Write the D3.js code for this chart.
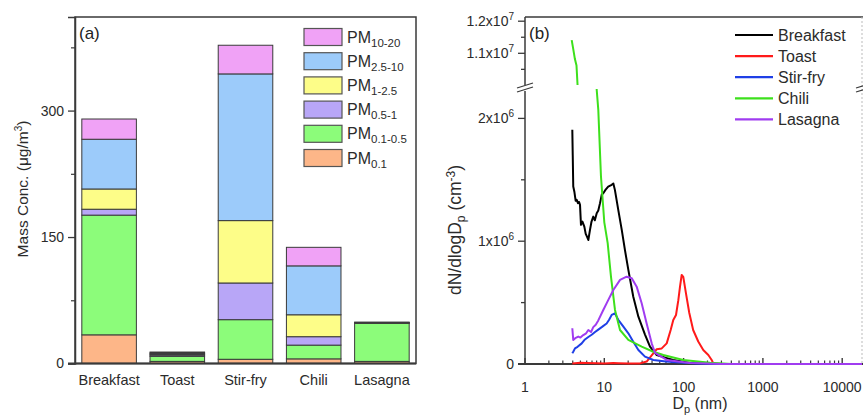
<!DOCTYPE html>
<html><head><meta charset="utf-8">
<script src="https://cdn.jsdelivr.net/npm/d3@7"></script>
<style>
body{margin:0;background:#fff;}
svg{display:block;font-family:"Liberation Sans",Arial,sans-serif;}
</style></head>
<body><svg id="c" width="863" height="416"></svg>
<script>
// ---------- Panel (a) data ----------
const categories = ["Breakfast","Toast","Stir-fry","Chili","Lasagna"];
const fractionKeys = ["pm01","pm01_05","pm05_1","pm1_25","pm25_10","pm10_20"];
const fractionLabels = [["PM","0.1"],["PM","0.1-0.5"],["PM","0.5-1"],["PM","1-2.5"],["PM","2.5-10"],["PM","10-20"]];
const fractionColors = ["#fdb688","#8cfc7a","#b8a6f7","#fdfd88","#9ccbfa","#f0a2f6"];
const pm01    = [34,  2.5, 5,    5.5, 2.5];
const pm01_05 = [142, 6,   47,   16.3, 45];
const pm05_1  = [7,   1.5, 43.5, 10,  0.4];
const pm1_25  = [24,  1.2, 74,   26,  0.4];
const pm25_10 = [59,  1.2, 174,  58,  0.4];
const pm10_20 = [24,  1.2, 34,   22,  0.4];
const yTicksA = [0,150,300];
const yMinorA = [75,225,375];

// ---------- Panel (b) data ----------
const seriesNames = ["Breakfast","Toast","Stir-fry","Chili","Lasagna"];
const seriesColors = ["#000000","#ff1a1a","#1f3fe6","#3de01c","#a03cf0"];
const breakfastD = [3.95,4.0,4.06,4.2,4.35,4.49,4.65,4.8,4.94,5.08,5.3,5.6,5.83,6.05,6.29,6.6,6.9,7.26,7.6,8.02,8.4,8.83,9.3,9.71,10.4,11.2,12.4,13.0,13.6,15.0,16.6,18.2,20.1,23.2,26.9,32.6,37.7,45.8,60,74,120,200,400,1000,20000];
const breakfastN = [1.907,1.70,1.445,1.40,1.33,1.337,1.31,1.32,1.296,1.133,1.16,1.119,1.06,1.037,1.01,1.092,1.16,1.2,1.17,1.228,1.25,1.31,1.38,1.391,1.42,1.445,1.459,1.47,1.418,1.255,1.092,0.929,0.766,0.548,0.385,0.24,0.141,0.073,0.05,0.033,0.008,0.002,0,0,0];
const toastD = [3.95,5,6,8,10,13,15,20,28.2,34.2,41.5,45.8,53.0,61.2,68.7,74.1,80.2,85.8,90.1,94.6,99.1,107,118,132,153,177,205,226,237,300,20000];
const toastN = [0.005,0.01,0.008,0.006,0.004,0.008,0.007,0.005,0.005,0.02,0.087,0.12,0.127,0.168,0.277,0.358,0.399,0.52,0.63,0.725,0.71,0.577,0.415,0.277,0.183,0.114,0.073,0.033,0.005,0,0];
const stirD = [3.95,4.06,4.27,4.6,5.19,5.7,6.29,7.0,7.64,8.4,9.28,10.7,11.5,12.4,13.6,15.0,17.4,20.1,23.2,26.9,32.6,41.5,60,100,150,300,20000];
const stirN = [0.087,0.10,0.127,0.14,0.168,0.20,0.22,0.24,0.26,0.28,0.30,0.33,0.36,0.40,0.413,0.36,0.304,0.25,0.182,0.114,0.06,0.033,0.02,0.01,0.005,0,0];
const chiliD = [3.88,4.06,4.26,4.46,4.59,5.5,6.5,7.5,8.02,8.40,9.08,10.0,11.03,12.14,13.64,15.78,20.1,29.6,41.5,55.5,99,215,400,20000];
const chiliN = [11.41,11.13,10.82,10.62,10.05,7.0,4.5,3.0,2.233,2.07,1.527,1.154,0.984,0.711,0.44,0.277,0.196,0.141,0.10,0.073,0.033,0.01,0,0];
const lasagnaD = [3.95,4.06,4.3,4.7,5.0,5.43,5.9,6.29,6.8,7.26,7.8,8.4,9.71,11.2,13.0,15.8,19.1,22.2,25.6,29.6,34.2,39.6,43.6,61.2,120,300,20000];
const lasagnaN = [0.291,0.196,0.21,0.223,0.215,0.236,0.25,0.277,0.26,0.30,0.32,0.355,0.44,0.52,0.603,0.685,0.711,0.698,0.63,0.495,0.33,0.168,0.09,0.033,0.008,0,0];
const xTicksB = [1,10,100,1000,10000];
const yTicksLow = [0,1e6,2e6];
const yMinorLow = [0.5e6,1.5e6];
const yTicksUp = [1.1e7,1.2e7];
const yMinorUp = [1.05e7,1.15e7];

const svg = d3.select("#c");
const TXT = "#2b2b2b";

// ================= Panel (a) =================
const A = {l:75, r:416, t:17, b:363.5};
const xA = d3.scaleBand().domain(categories).range([A.l, A.r]).paddingInner(0.2).paddingOuter(0.1);
const yA = d3.scaleLinear().domain([0, 411]).range([A.b, A.t]);

const rows = categories.map((c,i)=>({cat:c, pm01:pm01[i], pm01_05:pm01_05[i], pm05_1:pm05_1[i], pm1_25:pm1_25[i], pm25_10:pm25_10[i], pm10_20:pm10_20[i]}));
const stack = d3.stack().keys(fractionKeys)(rows);
const gA = svg.append("g");
stack.forEach((layer, li)=>{
  gA.append("g").selectAll("rect").data(layer).join("rect")
    .attr("x", d=>xA(d.data.cat))
    .attr("width", xA.bandwidth())
    .attr("y", d=>yA(d[1]))
    .attr("height", d=>yA(d[0])-yA(d[1]))
    .attr("fill", fractionColors[li])
    .attr("stroke", "#3a3a3a").attr("stroke-width", 1);
});
// frame
gA.append("rect").attr("x",A.l).attr("y",A.t).attr("width",A.r-A.l).attr("height",A.b-A.t)
  .attr("fill","none").attr("stroke","#3a3a3a").attr("stroke-width",1.5);
// y axis
const axA = gA.append("g").attr("transform",`translate(${A.l},0)`)
  .call(d3.axisLeft(yA).tickValues(yTicksA).tickSize(7).tickPadding(4).tickFormat(d3.format("d")));
axA.select(".domain").attr("stroke","#3a3a3a").attr("stroke-width",1.5);
axA.selectAll(".tick line").attr("stroke","#3a3a3a").attr("stroke-width",1.3);
axA.selectAll("text").attr("fill",TXT).style("font-size","14px").style("font-family","Liberation Sans, Arial");
const axAm = gA.append("g").attr("transform",`translate(${A.l},0)`)
  .call(d3.axisLeft(yA).tickValues(yMinorA).tickSize(4).tickFormat(""));
axAm.select(".domain").remove();
axAm.selectAll(".tick line").attr("stroke","#3a3a3a").attr("stroke-width",1.2);
// bottom axis line
gA.append("line").attr("x1",A.l-7).attr("x2",A.r).attr("y1",A.b).attr("y2",A.b).attr("stroke","#3a3a3a").attr("stroke-width",2);
// category labels
gA.append("g").selectAll("text").data(categories).join("text")
  .attr("x", d=>xA(d)+xA.bandwidth()/2).attr("y", 385)
  .attr("text-anchor","middle").attr("fill",TXT).style("font-size","14.5px").text(d=>d);
// y label
const ylA = gA.append("text").attr("transform","translate(28,189) rotate(-90)").attr("text-anchor","middle")
  .attr("fill",TXT).style("font-size","15.5px");
ylA.append("tspan").text("Mass Conc. (\u03bcg/m");
ylA.append("tspan").attr("dy",-6).style("font-size","10px").text("3");
ylA.append("tspan").attr("dy",6).text(")");
gA.append("text").attr("x",79).attr("y",39).attr("fill","#222").style("font-size","17px").text("(a)");
// legend (top = PM10-20)
const legA = gA.append("g");
const legOrder = [5,4,3,2,1,0];
legOrder.forEach((k,i)=>{
  const cy = 37 + i*24.2;
  legA.append("rect").attr("x",304).attr("y",cy-8.5).attr("width",38).attr("height",17)
    .attr("fill",fractionColors[k]).attr("stroke","#555").attr("stroke-width",1.2);
  const t = legA.append("text").attr("x",347).attr("y",cy+5.5).attr("fill",TXT).style("font-size","16px");
  t.append("tspan").text(fractionLabels[k][0]);
  t.append("tspan").attr("dy",4).style("font-size","11.5px").text(fractionLabels[k][1]);
});

// ================= Panel (b) =================
const B = {l:525, r:862, t:17, b:364};
const xB = d3.scaleLog().domain([1,10000]).range([525, 842.2]);
const upTop = 17, upBot = 85, lowTop = 89;
const yUp = d3.scaleLinear().domain([1.0e7, 1.2e7]).range([85.4, 21.2]);
const yLow = d3.scaleLinear().domain([0, 2e6]).range([364, 118.4]);
const gB = svg.append("g");
const defs = svg.append("defs");
defs.append("clipPath").attr("id","clipUp").append("rect").attr("x",B.l).attr("y",upTop).attr("width",B.r-B.l).attr("height",upBot-upTop);
defs.append("clipPath").attr("id","clipLow").append("rect").attr("x",B.l).attr("y",lowTop).attr("width",B.r-B.l).attr("height",B.b-lowTop+2);
const AX = "#3a3a3a";

// bottom axis first (lines at zero sit on top of it)
gB.append("line").attr("x1",B.l-7).attr("x2",863).attr("y1",B.b).attr("y2",B.b).attr("stroke",AX).attr("stroke-width",2);
const minorX = [];
xTicksB.forEach(dec=>{ for(let k=2;k<=9;k++){ const v=dec*k; if(xB(v)<B.r) minorX.push(v);} });
minorX.forEach(v=>gB.append("line").attr("x1",xB(v)).attr("x2",xB(v)).attr("y1",B.b).attr("y2",B.b-3.5).attr("stroke",AX).attr("stroke-width",1.2));
xTicksB.forEach(v=>gB.append("line").attr("x1",xB(v)).attr("x2",xB(v)).attr("y1",B.b+1).attr("y2",B.b-6).attr("stroke",AX).attr("stroke-width",1.4));

const series = [
  {name:"Breakfast", D:breakfastD, N:breakfastN.map(v=>v*1e6)},
  {name:"Toast", D:toastD, N:toastN.map(v=>v*1e6)},
  {name:"Stir-fry", D:stirD, N:stirN.map(v=>v*1e6)},
  {name:"Chili", D:chiliD, N:chiliN.map(v=>v*1e6)},
  {name:"Lasagna", D:lasagnaD, N:lasagnaN.map(v=>v*1e6)}
];
const lineUp = d3.line().x(d=>xB(d[0])).y(d=>yUp(d[1]));
const lineLow = d3.line().x(d=>xB(d[0])).y(d=>yLow(d[1]));
const gLow = gB.append("g").attr("clip-path","url(#clipLow)");
const gUp = gB.append("g").attr("clip-path","url(#clipUp)");
series.forEach((s,i)=>{
  const pts = s.D.map((d,j)=>[d, s.N[j]]);
  gLow.append("path").attr("d",lineLow(pts)).attr("fill","none").attr("stroke",seriesColors[i]).attr("stroke-width",2).attr("stroke-linejoin","round");
  gUp.append("path").attr("d",lineUp(pts)).attr("fill","none").attr("stroke",seriesColors[i]).attr("stroke-width",2).attr("stroke-linejoin","round");
});
// frame lines
gB.append("line").attr("x1",B.l).attr("x2",863).attr("y1",B.t).attr("y2",B.t).attr("stroke",AX).attr("stroke-width",1.5);
gB.append("line").attr("x1",B.r).attr("x2",B.r).attr("y1",B.t).attr("y2",B.b).attr("stroke","#bbb").attr("stroke-width",1).attr("stroke-dasharray","2,2");
gB.append("line").attr("x1",B.l).attr("x2",B.l).attr("y1",B.t).attr("y2",upBot).attr("stroke",AX).attr("stroke-width",1.5);
gB.append("line").attr("x1",B.l).attr("x2",B.l).attr("y1",lowTop+2).attr("y2",B.b).attr("stroke",AX).attr("stroke-width",1.5);
// break marks
[[0],[4]].forEach(o=>{
  gB.append("line").attr("x1",517).attr("y1",88+o[0]).attr("x2",533).attr("y2",83+o[0]).attr("stroke",AX).attr("stroke-width",1.3);
  gB.append("line").attr("x1",856).attr("y1",88+o[0]).attr("x2",866).attr("y2",85+o[0]).attr("stroke",AX).attr("stroke-width",1.3);
});
// y ticks (outward)
function yTick(scale, vals, len){
  vals.forEach(v=>{
    gB.append("line").attr("x1",B.l-len).attr("x2",B.l).attr("y1",scale(v)).attr("y2",scale(v)).attr("stroke",AX).attr("stroke-width",1.3);
  });
}
yTick(yLow, yTicksLow, 7); yTick(yLow, yMinorLow, 4);
yTick(yUp, yTicksUp, 7); yTick(yUp, yMinorUp, 4);
function sciLabel(y, mant, exp){
  const t = gB.append("text").attr("x",514).attr("y",y+5).attr("text-anchor","end").attr("fill",TXT).style("font-size","14px");
  if(mant===null){ t.text("0"); return; }
  t.append("tspan").text(mant+"x10");
  t.append("tspan").attr("dy",-6).style("font-size","10px").text(exp);
}
yTicksLow.forEach(v=>{
  if(v===0) sciLabel(yLow(v), null);
  else sciLabel(yLow(v), d3.format("d")(v/1e6), "6");
});
yTicksUp.forEach(v=>sciLabel(yUp(v), d3.format(".1f")(v/1e7), "7"));
gB.append("g").selectAll("text").data(xTicksB).join("text")
  .attr("x",d=>xB(d)).attr("y",392).attr("text-anchor","middle").attr("fill",TXT).style("font-size","14px").text(d=>d3.format("d")(d));
// x label
const xl = gB.append("text").attr("x",700).attr("y",409).attr("text-anchor","middle").attr("fill",TXT).style("font-size","16px");
xl.append("tspan").text("D");
xl.append("tspan").attr("dy",3.5).style("font-size","11px").text("p");
xl.append("tspan").attr("dy",-3.5).text(" (nm)");
// y label
const yl = gB.append("text").attr("transform","translate(461,230) rotate(-90)").attr("text-anchor","middle").attr("fill",TXT).style("font-size","17.5px");
yl.append("tspan").text("dN/dlogD");
yl.append("tspan").attr("dy",4).style("font-size","12px").text("p");
yl.append("tspan").attr("dy",-4).text(" (cm");
yl.append("tspan").attr("dy",-6).style("font-size","12px").text("-3");
yl.append("tspan").attr("dy",6).text(")");
gB.append("text").attr("x",529).attr("y",39).attr("fill","#222").style("font-size","17px").text("(b)");
// legend
seriesNames.forEach((n,i)=>{
  const cy = 35 + i*21.1;
  gB.append("line").attr("x1",735).attr("x2",773).attr("y1",cy).attr("y2",cy).attr("stroke",seriesColors[i]).attr("stroke-width",2.2);
  gB.append("text").attr("x",778).attr("y",cy+5.5).attr("fill",TXT).style("font-size","16px").text(n);
});
</script></body></html>
